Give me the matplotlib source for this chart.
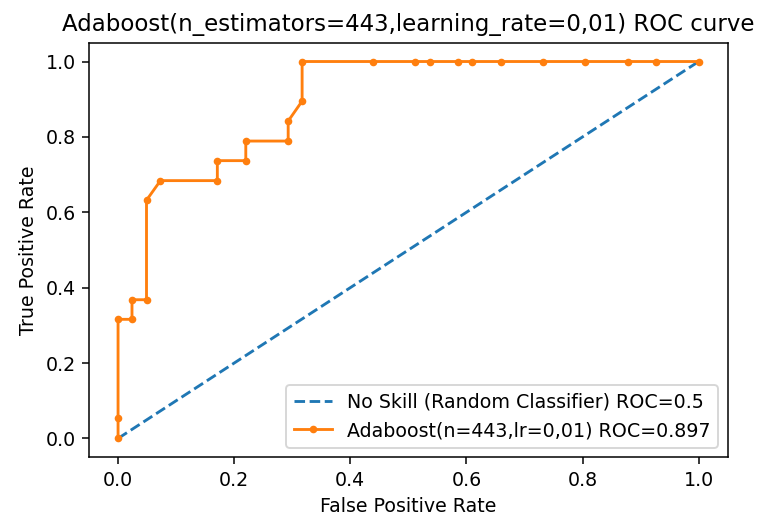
import matplotlib
matplotlib.use("Agg")
import matplotlib.pyplot as plt

noskill_fpr = [0.0, 1.0]
noskill_tpr = [0.0, 1.0]

fpr = [0.0, 0.0, 0.0, 0.024, 0.024, 0.049, 0.049, 0.073, 0.171, 0.171,
       0.220, 0.220, 0.293, 0.293, 0.317, 0.317, 0.439, 0.512, 0.537, 0.585,
       0.610, 0.659, 0.732, 0.805, 0.878, 0.927, 1.0]
tpr = [0.0, 0.053, 0.316, 0.316, 0.368, 0.368, 0.632, 0.684, 0.684, 0.737,
       0.737, 0.789, 0.789, 0.842, 0.895, 1.0, 1.0, 1.0, 1.0, 1.0,
       1.0, 1.0, 1.0, 1.0, 1.0, 1.0, 1.0]

title = "Adaboost(n_estimators=443,learning_rate=0,01) ROC curve"
label_noskill = "No Skill (Random Classifier) ROC=0.5"
label_model = "Adaboost(n=443,lr=0,01) ROC=0.897"

dpi = 137
fig = plt.figure(figsize=(757 / dpi, 516 / dpi), dpi=dpi)
ax = fig.add_axes([0.1176, 0.1138, 0.9613 - 0.1176, 0.9173 - 0.1138])
ax.plot(noskill_fpr, noskill_tpr, linestyle="--", label=label_noskill)
ax.plot(fpr, tpr, marker=".", label=label_model)
ax.set_xlabel("False Positive Rate")
ax.set_ylabel("True Positive Rate")
ax.set_title(title)
ax.legend(loc="lower right")
fig.savefig("out.png", dpi=dpi)
